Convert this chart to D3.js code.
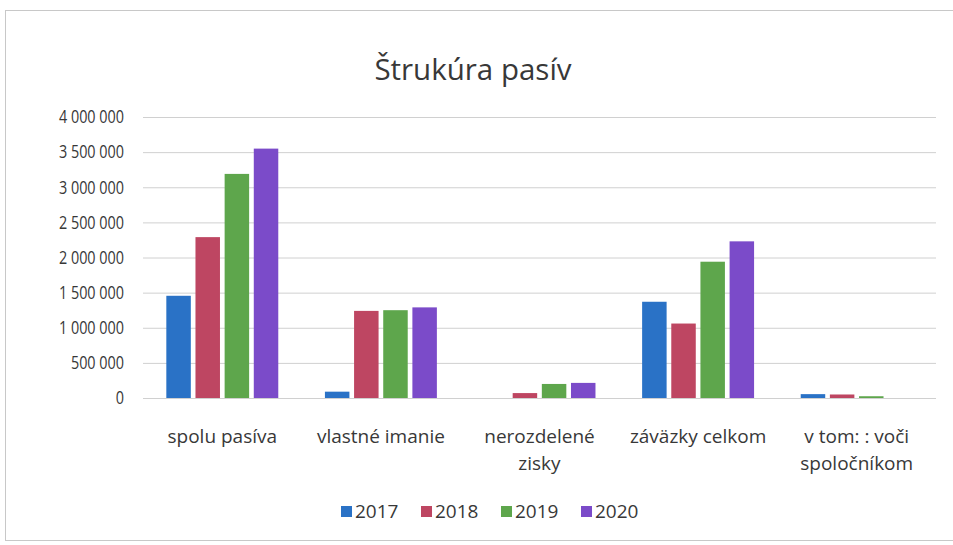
<!DOCTYPE html>
<html lang="sk">
<head>
<meta charset="UTF-8">
<title>Štrukúra pasív</title>
<script src="https://d3js.org/d3.v7.min.js"></script>
<style>
  body { margin: 0; background: #fff; }
  svg { font-family: "Open Sans", sans-serif; }
  .grid line { stroke: #d0d0d0; stroke-width: 1px; }
</style>
</head>
<body>
<svg></svg>
<script>
const categories = ["spolu pasíva", "vlastné imanie", "nerozdelené zisky", "záväzky celkom", "v tom: : voči spoločníkom"]
const years = ["2017", "2018", "2019", "2020"]
const v2017 = [1455000, 90000, 0, 1370000, 55000]
const v2018 = [2290000, 1240000, 70000, 1060000, 50000]
const v2019 = [3190000, 1250000, 200000, 1940000, 25000]
const v2020 = [3550000, 1290000, 215000, 2230000, 0]
const yTicks = [0, 500000, 1000000, 1500000, 2000000, 2500000, 3000000, 3500000, 4000000]
const colors = ["#2a72c6", "#be4662", "#5ea64c", "#7b4bc9"]

const [width, height] = [953, 545]
const textColor = "#383838"
const series = [v2017, v2018, v2019, v2020]
const svg = d3.select("svg").attr("width", width).attr("height", height)

// chart frame
svg.append("rect").attr("x", 5.5).attr("y", 10.5).attr("width", 960).attr("height", 530)
    .attr("fill", "none").attr("stroke", "#c8c8c8")

const x = d3.scaleBand().domain(categories).range([143, 936])
const inner = d3.scaleBand().domain(years).range([0, x.bandwidth()]).paddingInner(0.16).paddingOuter(0.8)
const y = d3.scaleLinear().domain([0, 4000000]).range([398, 117])

const fmt = d => d3.format(",")(d).replace(/,/g, " ")

// gridlines
svg.append("g").attr("class", "grid")
  .selectAll("line").data(yTicks).join("line")
    .attr("x1", 143).attr("x2", 936)
    .attr("y1", d => y(d) + 0.5).attr("y2", d => y(d) + 0.5)

// y axis labels (squeezed a bit, the original font is narrow)
const squeeze = 0.8
const yAxis = svg.append("g").attr("transform", "translate(143,0)")
  .call(d3.axisLeft(y).tickValues(yTicks).tickFormat(fmt).tickSize(0).tickPadding(19 / squeeze))
yAxis.select(".domain").remove()
yAxis.selectAll("text")
  .attr("font-size", 18).attr("font-family", "Open Sans, sans-serif")
  .attr("fill", textColor).attr("transform", `scale(${squeeze},1)`)

// bars
const groups = svg.append("g").selectAll("g").data(categories).join("g")
  .attr("transform", d => `translate(${x(d)},0)`)
groups.selectAll("rect").data((d, i) => years.map((yr, j) => ({yr, j, v: series[j][i]})))
  .join("rect")
    .attr("x", d => inner(d.yr))
    .attr("width", inner.bandwidth())
    .attr("y", d => y(d.v))
    .attr("height", d => y(0) - y(d.v))
    .attr("fill", d => colors[d.j])

// category labels
const wrapped = {"nerozdelené zisky": ["nerozdelené", "zisky"], "v tom: : voči spoločníkom": ["v tom: : voči", "spoločníkom"]}
svg.append("g").selectAll("text").data(categories).join("text")
  .attr("x", d => x(d) + x.bandwidth() / 2)
  .attr("y", 443)
  .attr("text-anchor", "middle")
  .attr("font-size", 19)
  .attr("fill", textColor)
  .each(function(d) {
    const lines = wrapped[d] || [d]
    d3.select(this).selectAll("tspan").data(lines).join("tspan")
      .attr("x", x(d) + x.bandwidth() / 2)
      .attr("dy", (l, i) => i ? 27 : 0)
      .text(l => l)
  })

// title
svg.append("text").attr("x", 473).attr("y", 80).attr("text-anchor", "middle")
  .attr("font-size", 29.5).attr("fill", textColor).text("Štrukúra pasív")

// legend
const legend = svg.append("g").selectAll("g").data(years).join("g")
  .attr("transform", (d, i) => `translate(${341 + i * 80},518)`)
legend.append("rect").attr("width", 11).attr("height", 11).attr("y", -12)
  .attr("fill", (d, i) => colors[i])
legend.append("text").attr("x", 14).attr("y", 0).attr("font-size", 19)
  .attr("fill", textColor).text(d => d)
</script>
</body>
</html>
